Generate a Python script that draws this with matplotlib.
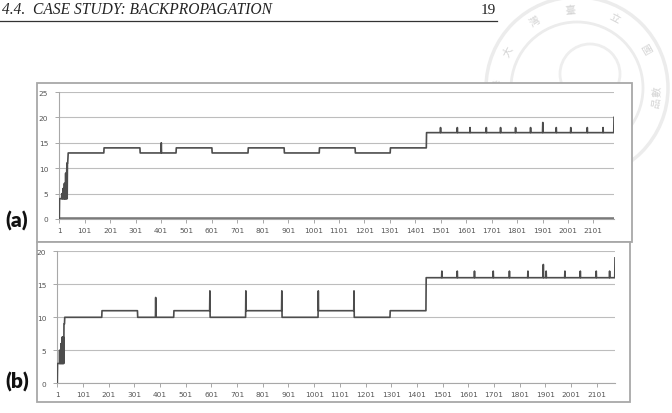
import numpy as np
import matplotlib
matplotlib.use("Agg")
import matplotlib.pyplot as plt
from matplotlib.patches import Rectangle, Circle

# ---- data ----
# (a): first points (dense start), then step levels, then one-point spikes
a_len = 2182
a_head = [0, 4, 4, 4, 4, 4, 4, 4, 4, 4, 5, 4, 4, 5, 4, 6, 4, 4, 6, 4,
          7, 4, 7, 4, 4, 9, 4, 9, 4, 9, 11, 4, 11, 11, 12, 13]
a_step_start = [36, 177, 319, 461, 602, 744, 886, 1024, 1165, 1303, 1445]
a_step_level = [13, 14, 13, 14, 13, 14, 13, 14, 13, 14, 17]
a_spike_at = [402, 1500, 1566, 1616, 1680, 1736, 1795, 1854, 1902, 1955, 2012, 2077, 2139, 2182]
a_spike_val = [15, 18, 18, 18, 18, 18, 18, 18, 19, 18, 18, 18, 18, 20]

# (b)
b_len = 2172
b_head = [0, 3, 3, 3, 3, 3, 3, 3, 3, 5, 3, 3, 5, 3, 6, 3, 3, 6, 3, 7,
          3, 7, 3, 3, 7, 3, 9, 9, 9, 10]
b_step_start = [30, 175, 314, 455, 595, 735, 875, 1017, 1156, 1297, 1437]
b_step_level = [10, 11, 10, 11, 10, 11, 10, 11, 10, 11, 16]
b_spike_at = [384, 595, 735, 875, 1017, 1156, 1498, 1558, 1625, 1698, 1761, 1833, 1893, 1904,
              1977, 2037, 2099, 2151, 2172]
b_spike_val = [13, 14, 14, 14, 14, 14, 17, 17, 17, 17, 17, 17, 18, 17, 17, 17, 17, 17, 19]

x_ticks = list(range(1, 2102, 100))


def build(n, head, starts, levels, spike_at, spike_val):
    y = np.zeros(n)
    for s, lv in zip(starts, levels):
        y[s - 1:] = lv
    y[:len(head)] = head
    for i, v in zip(spike_at, spike_val):
        y[i - 1] = v
    return np.arange(1, n + 1), y


W, H = 672, 414
fig = plt.figure(figsize=(W / 100, H / 100), dpi=100)

# page layer in pixel coords
pg = fig.add_axes([0, 0, 1, 1])
pg.set_xlim(0, W)
pg.set_ylim(H, 0)
pg.axis("off")

# faint university seal, top right
seal_c = (577, 89)
for r, lw in [(91, 2.5), (66, 2)]:
    pg.add_patch(Circle(seal_c, r, fill=False, ec="#ececec", lw=lw, zorder=0))
pg.add_patch(Circle((590, 75), 30, fill=False, ec="#eeeeee", lw=2, zorder=0))
seal_chars = ["國", "立", "臺", "灣", "大", "學"]
seal_ang = [30, 62, 95, 122, 152, 177]
for ch, ang in zip(seal_chars, seal_ang):
    t = np.deg2rad(ang)
    pg.text(seal_c[0] + 79 * np.cos(t), seal_c[1] - 79 * np.sin(t), ch,
            rotation=ang - 90, ha="center", va="center", fontsize=7.5,
            color="#d4d4d4", family="Noto Sans CJK TC", zorder=0)
for ch, ang in [("數", -2), ("品", -10)]:
    t = np.deg2rad(ang)
    pg.text(seal_c[0] + 80 * np.cos(t), seal_c[1] - 80 * np.sin(t), ch,
            rotation=ang + 90, ha="center", va="center", fontsize=7.5,
            color="#d4d4d4", family="Noto Sans CJK TC", zorder=0)

# running header
pg.text(2, 10, "4.4.  CASE STUDY: BACKPROPAGATION", fontsize=11.2, style="italic",
        family="Liberation Serif", ha="left", va="center", color="#222")
pg.text(496, 10, "19", fontsize=11, family="Liberation Serif", ha="right",
        va="center", color="#222")
pg.plot([0, 497], [22, 22], color="#333", lw=0.9)

# panel frames
pg.add_patch(Rectangle((37, 84), 595, 159, fc="white", ec="#a8a8a8", lw=1.3, zorder=2))
pg.add_patch(Rectangle((37, 243), 593, 160, fc="white", ec="#a8a8a8", lw=1.3, zorder=2))

pg.text(17, 221, "(a)", fontsize=15, fontweight="heavy", family="Lato",
        ha="center", va="center", color="#111")
pg.text(17, 382, "(b)", fontsize=15, fontweight="heavy", family="Lato",
        ha="center", va="center", color="#111")


def style(ax, ymax):
    ax.set_facecolor("none")
    ax.set_ylim(0, ymax)
    ax.set_yticks(range(0, ymax + 1, 5))
    ax.set_xticks(x_ticks)
    ax.set_xticklabels([str(v) for v in x_ticks])
    ax.grid(axis="y", color="#bdbdbd", lw=0.8)
    ax.set_axisbelow(True)
    for s in ["top", "right"]:
        ax.spines[s].set_visible(False)
    for s in ["left", "bottom"]:
        ax.spines[s].set_color("#a8a8a8")
        ax.spines[s].set_linewidth(0.8)
    ax.tick_params(axis="both", labelsize=5.3, colors="#a8a8a8", labelcolor="#555",
                   length=3, width=0.7, pad=2.5)
    ax.tick_params(axis="y", pad=5)


# (a)
axa = fig.add_axes([59.3 / W, 1 - 220 / H, (614 - 59.3) / W, 127 / H])
xa, ya = build(a_len, a_head, a_step_start, a_step_level, a_spike_at, a_spike_val)
axa.plot([1, a_len], [0, 0], color="#7a7a7a", lw=2.6, solid_capstyle="butt", zorder=3)
axa.plot(xa, ya, color="#4d4d4d", lw=1.2, zorder=4)
axa.set_xlim(1, a_len)
style(axa, 25)

# (b)
axb = fig.add_axes([57.3 / W, 1 - 384.3 / H, (615 - 57.3) / W, 132 / H])
xb, yb = build(b_len, b_head, b_step_start, b_step_level, b_spike_at, b_spike_val)
axb.plot(xb, yb, color="#4d4d4d", lw=1.2, zorder=4)
axb.set_xlim(1, b_len)
style(axb, 20)

fig.savefig("out.png", dpi=100)
